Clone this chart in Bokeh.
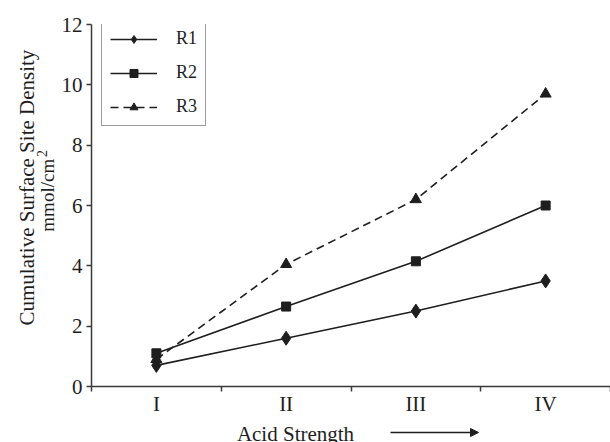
import math
from bokeh.plotting import figure
from bokeh.layouts import row, column
from bokeh.models import Range1d, FixedTicker, Label, Arrow, NormalHead, Legend, LegendItem
from bokeh.embed import file_html
from bokeh.resources import INLINE

# ---- data ----
CATEGORIES = ["I", "II", "III", "IV"]
R1 = [0.7, 1.6, 2.5, 3.5]
R2 = [1.1, 2.65, 4.15, 6.0]
R3 = [0.9, 4.05, 6.2, 9.7]
Y_TICKS = [0, 2, 4, 6, 8, 10, 12]

FONT = "Liberation Serif"
INK = "#1e1e1e"
AX = "#3a3a3a"

xs = [i + 0.5 for i in range(len(CATEGORIES))]

MAIN_H = 424
B_H = 442 - MAIN_H


def blank(width, height):
    f = figure(width=width, height=height, output_backend="svg", toolbar_location=None,
               x_range=Range1d(0, width), y_range=Range1d(0, height), min_border=0)
    f.axis.visible = False
    f.grid.visible = False
    f.outline_line_color = None
    return f


# ---- main plot ----
p = figure(width=552, height=MAIN_H, output_backend="svg", toolbar_location=None,
           x_range=Range1d(0, 4), y_range=Range1d(0, 12),
           min_border_left=32, min_border_right=0, min_border_top=24, min_border_bottom=MAIN_H - 386)
p.outline_line_color = None
p.grid.visible = False

xa = p.xaxis[0]
xa.ticker = FixedTicker(ticks=xs, minor_ticks=[0, 1, 2, 3, 4])
xa.major_label_overrides = {x: c for x, c in zip(xs, CATEGORIES)}
xa.major_tick_out = 0
xa.major_tick_in = 0
xa.minor_tick_out = 5
xa.minor_tick_in = 0
xa.minor_tick_line_color = AX
xa.minor_tick_line_width = 1.5
xa.axis_line_color = AX
xa.axis_line_width = 1.5
xa.major_label_text_font = FONT
xa.major_label_text_font_size = "21px"
xa.major_label_text_color = INK
xa.major_label_standoff = 0

ya = p.yaxis[0]
ya.ticker = FixedTicker(ticks=Y_TICKS, minor_ticks=[])
ya.major_tick_out = 5
ya.major_tick_in = 0
ya.major_tick_line_color = AX
ya.major_tick_line_width = 1.5
ya.axis_line_color = AX
ya.axis_line_width = 1.5
ya.major_label_text_font = FONT
ya.major_label_text_font_size = "21px"
ya.major_label_text_color = INK
ya.major_label_standoff = 4

lw = 1.6
l1 = p.line(xs, R1, line_color=INK, line_width=lw)
m1 = p.scatter(xs, R1, marker="diamond", size=14, fill_color=INK, line_color=INK)
l2 = p.line(xs, R2, line_color=INK, line_width=lw)
m2 = p.scatter(xs, R2, marker="square", size=9, fill_color=INK, line_color=INK)
l3 = p.line(xs, R3, line_color=INK, line_width=lw, line_dash="8 5")
m3 = p.scatter(xs, R3, marker="triangle", size=11, fill_color=INK, line_color=INK)

legend = Legend(items=[LegendItem(label="R1", renderers=[l1, m1]),
                       LegendItem(label="R2", renderers=[l2, m2]),
                       LegendItem(label="R3", renderers=[l3, m3])],
                location=(10, 260), padding=8, spacing=13, margin=0,
                glyph_width=47, glyph_height=20, label_height=20, label_standoff=19,
                label_text_font=FONT, label_text_font_size="18px", label_text_color=INK,
                border_line_color=AX, border_line_width=1.2, background_fill_alpha=1)
p.add_layout(legend)

# ---- y title panel (pixel coordinates, y up) ----
L = blank(58, MAIN_H)
L.add_layout(Label(x=26, y=MAIN_H - 191, text="Cumulative Surface Site Density", angle=math.pi / 2,
                   text_align="center", text_baseline="alphabetic",
                   text_font=FONT, text_font_size="21px", text_color=INK))
L.add_layout(Label(x=47, y=MAIN_H - 200, text="mmol/cm", angle=math.pi / 2,
                   text_align="center", text_baseline="alphabetic",
                   text_font=FONT, text_font_size="19px", text_color=INK))
L.add_layout(Label(x=41, y=MAIN_H - 151, text="2", angle=math.pi / 2,
                   text_align="center", text_baseline="alphabetic",
                   text_font=FONT, text_font_size="14px", text_color=INK))

# ---- x title strip ----
B = blank(610, B_H)
B.add_layout(Label(x=295, y=9, text="Acid Strength", text_align="center",
                   text_baseline="alphabetic", text_font=FONT, text_font_size="21px", text_color=INK))
B.add_layout(Arrow(x_start=390, y_start=442 - 432, x_end=478, y_end=442 - 432,
                   line_color=INK, line_width=1.3,
                   end=NormalHead(size=8, fill_color=INK, line_color=INK)))

layout = column(row(L, p, spacing=0), B, spacing=0)
open("out.html", "w").write(file_html(layout, INLINE))
